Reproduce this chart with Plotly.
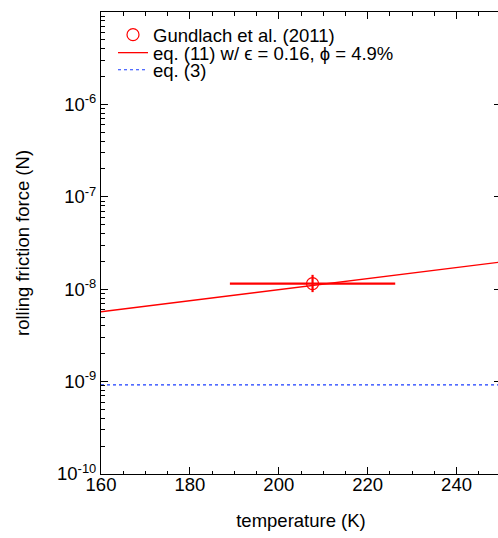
import plotly.graph_objects as go

# Measured rolling friction force (Gundlach et al. 2011)
obs_temp = [207.6]
obs_temp_err = [18.6]
obs_force = [1.15e-8]
obs_force_err_plus = [0.28e-8]
obs_force_err_minus = [0.22e-8]

# eq. (11) with epsilon = 0.16, phi = 4.9%
model_temp = [160, 180, 200, 220, 240, 250]
model_force = [5.7e-9, 7.5e-9, 9.9e-9, 1.30e-8, 1.71e-8, 1.97e-8]

# eq. (3): temperature independent
eq3_temp = [160, 250]
eq3_force = [9.2e-10, 9.2e-10]

x_ticks = [160, 180, 200, 220, 240]
y_exponents = [-10, -9, -8, -7, -6, -5]

FONT = "Liberation Sans, Arial, Helvetica, sans-serif"
FS = 18.5

fig = go.Figure()

fig.add_trace(go.Scatter(
    x=obs_temp, y=obs_force, mode="markers",
    name="Gundlach et al. (2011)", legend="legend",
    marker=dict(symbol="circle-open", size=12, color="red", line=dict(width=1.2, color="red")),
    error_x=dict(type="data", array=obs_temp_err, color="red", thickness=2.2, width=0),
    error_y=dict(type="data", symmetric=False, array=obs_force_err_plus,
                 arrayminus=obs_force_err_minus, color="red", thickness=2.2, width=0),
))

fig.add_trace(go.Scatter(
    x=model_temp, y=model_force, mode="lines",
    name="eq. (11) w/ ϵ = 0.16, ϕ = 4.9%", legend="legend2",
    line=dict(color="red", width=1.3),
))

fig.add_trace(go.Scatter(
    x=eq3_temp, y=eq3_force, mode="lines",
    name="eq. (3)", legend="legend3",
    line=dict(color="#1a3cff", width=1.2, dash="dot"),
))

y_tickvals = [10.0 ** e for e in y_exponents]
y_ticktext = [f"10<sup>{e}</sup>" for e in y_exponents]
y_minor = [k * 10.0 ** e for e in y_exponents[:-1] for k in range(2, 10)]


def legend_box(ypos):
    return dict(
        x=0.03, y=ypos, xanchor="left", yanchor="middle",
        bgcolor="rgba(0,0,0,0)", borderwidth=0,
        font=dict(family=FONT, size=FS, color="black"),
        itemwidth=30,
    )


# plot area spans 101..501 px horizontally; the page clips at 498
fig.update_layout(
    width=502, height=538,
    margin=dict(l=101, r=1, t=12, b=64),
    paper_bgcolor="white", plot_bgcolor="white",
    font=dict(family=FONT, size=FS, color="black"),
    showlegend=True,
    legend=legend_box(0.950),
    legend2=legend_box(0.911),
    legend3=legend_box(0.874),
    xaxis=dict(
        range=[160, 250],
        tickmode="array", tickvals=x_ticks,
        ticks="inside", ticklen=7, tickwidth=1, tickcolor="black",
        showline=True, linecolor="black", linewidth=1, mirror="ticks",
        showgrid=False, zeroline=False,
        minor=dict(dtick=5, tick0=160, ticks="inside", ticklen=3.5, tickcolor="black", tickwidth=1, showgrid=False),
        title=dict(text="temperature (K)", standoff=19, font=dict(size=FS)),
        tickfont=dict(size=FS), ticklabelstandoff=-6,
    ),
    yaxis=dict(
        type="log", range=[-10, -5],
        tickmode="array", tickvals=y_tickvals, ticktext=y_ticktext,
        ticks="inside", ticklen=7, tickwidth=1, tickcolor="black",
        showline=True, linecolor="black", linewidth=1, mirror="ticks",
        showgrid=False, zeroline=False,
        minor=dict(tickmode="array", tickvals=y_minor, ticks="inside", ticklen=3.5,
                   tickcolor="black", tickwidth=1, showgrid=False),
        title=dict(text="rolling friction force (N)", standoff=22, font=dict(size=FS)),
        tickfont=dict(size=FS),
    ),
)

fig.write_html(
    "out.html",
    post_script="document.documentElement.style.overflow='hidden';document.body.style.overflow='hidden';",
)
